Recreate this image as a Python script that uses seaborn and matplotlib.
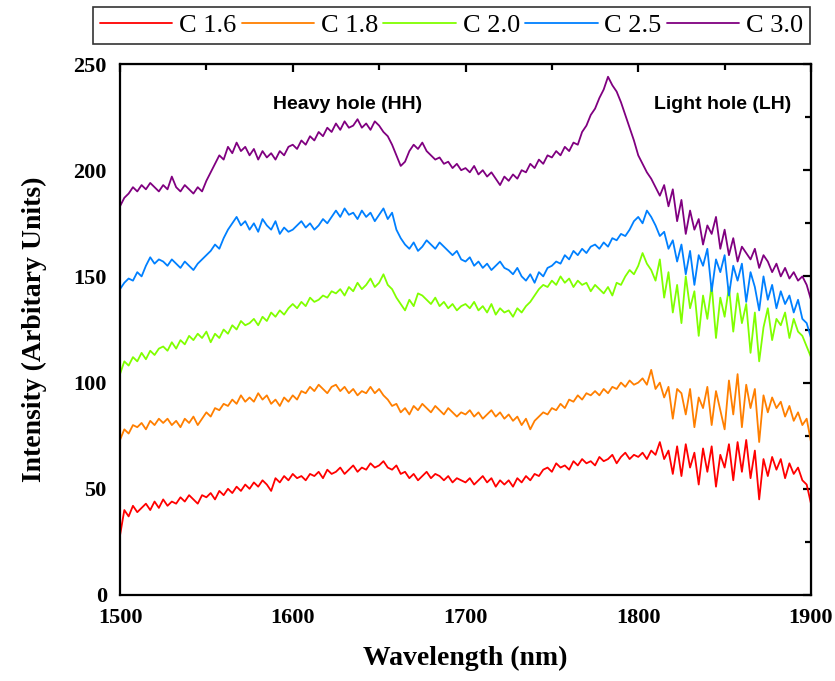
import numpy as np
import pandas as pd
import matplotlib
matplotlib.use('Agg')
import matplotlib.pyplot as plt
import seaborn as sns

# wavelength grid, 2.5 nm steps from 1500 to 1900
wavelength = np.arange(1500, 1900.1, 2.5)

c16 = [28, 40, 37, 42, 39, 41, 43, 40, 44, 41,
       45, 42, 44, 43, 46, 44, 47, 45, 43, 47,
       46, 48, 45, 49, 47, 50, 48, 51, 49, 52,
       50, 53, 51, 54, 52, 49, 55, 53, 56, 54,
       57, 55, 56, 54, 57, 56, 58, 55, 59, 57,
       58, 60, 57, 59, 61, 58, 60, 59, 62, 60,
       61, 63, 60, 59, 61, 57, 58, 55, 57, 54,
       56, 58, 55, 57, 56, 54, 56, 53, 55, 54,
       53, 55, 52, 54, 56, 53, 55, 51, 54, 52,
       54, 51, 55, 53, 56, 54, 57, 56, 59, 60,
       58, 62, 60, 61, 59, 63, 61, 64, 62, 63,
       61, 65, 63, 64, 66, 62, 65, 67, 64, 66,
       65, 67, 64, 68, 66, 72, 64, 68, 57, 70,
       56, 71, 60, 67, 52, 69, 58, 70, 51, 66,
       60, 71, 54, 72, 58, 73, 55, 68, 45, 64,
       56, 65, 59, 64, 55, 62, 57, 60, 54, 52,
       43]

c18 = [73, 78, 76, 80, 79, 81, 78, 82, 80, 83,
       81, 83, 80, 82, 79, 83, 81, 84, 80, 83,
       86, 84, 88, 87, 90, 89, 92, 90, 94, 91,
       93, 91, 95, 92, 94, 90, 92, 89, 93, 91,
       94, 92, 96, 95, 98, 96, 99, 97, 95, 98,
       99, 96, 98, 95, 97, 94, 96, 95, 98, 95,
       97, 94, 92, 89, 90, 86, 88, 85, 89, 87,
       90, 88, 86, 89, 87, 85, 88, 86, 84, 86,
       85, 87, 84, 86, 83, 85, 87, 84, 86, 83,
       85, 82, 84, 80, 83, 78, 82, 84, 86, 85,
       88, 87, 90, 88, 92, 91, 94, 92, 95, 94,
       96, 94, 97, 95, 98, 97, 100, 98, 101, 99,
       100, 102, 99, 106, 97, 100, 93, 98, 83, 97,
       95, 85, 97, 79, 93, 88, 98, 80, 96, 87,
       78, 101, 85, 104, 79, 99, 88, 97, 72, 94,
       86, 93, 88, 91, 84, 89, 82, 86, 80, 83,
       72]

c20 = [104, 110, 108, 112, 110, 114, 111, 115, 113, 116,
       117, 115, 119, 116, 120, 118, 122, 120, 123, 121,
       124, 119, 123, 121, 125, 123, 127, 125, 129, 127,
       128, 130, 127, 131, 129, 133, 131, 134, 132, 135,
       137, 135, 138, 136, 140, 138, 139, 141, 140, 143,
       142, 144, 141, 145, 143, 147, 144, 146, 149, 145,
       147, 151, 146, 144, 140, 137, 134, 139, 136, 142,
       141, 139, 137, 140, 136, 138, 135, 137, 134, 136,
       137, 135, 138, 134, 136, 133, 137, 132, 135, 133,
       134, 131, 135, 133, 136, 138, 141, 144, 146, 145,
       148, 146, 150, 147, 149, 145, 148, 146, 147, 143,
       146, 144, 142, 145, 141, 147, 146, 150, 153, 151,
       155, 161, 156, 153, 148, 158, 140, 152, 133, 146,
       128, 150, 135, 143, 122, 141, 130, 146, 121, 140,
       131, 145, 124, 142, 128, 137, 114, 133, 110, 126,
       135, 120, 130, 127, 133, 121, 130, 124, 122, 117,
       112]

c25 = [144, 147, 149, 148, 152, 150, 155, 159, 156, 158,
       157, 155, 158, 156, 154, 157, 155, 153, 156, 158,
       160, 162, 165, 163, 168, 172, 175, 178, 174, 176,
       172, 175, 171, 177, 174, 172, 176, 170, 173, 171,
       172, 174, 176, 173, 175, 172, 174, 177, 175, 178,
       181, 178, 182, 179, 180, 177, 181, 178, 180, 176,
       179, 182, 177, 180, 172, 168, 165, 163, 166, 162,
       164, 167, 165, 163, 166, 164, 162, 160, 162, 158,
       157, 159, 155, 157, 154, 156, 153, 155, 157, 154,
       153, 151, 154, 150, 148, 151, 147, 152, 150, 154,
       155, 157, 156, 160, 158, 162, 160, 163, 161, 164,
       165, 163, 166, 164, 168, 167, 170, 169, 172, 176,
       178, 175, 181, 178, 174, 169, 171, 163, 167, 157,
       165, 151, 162, 146, 160, 155, 163, 143, 158, 152,
       160, 141, 155, 148, 156, 138, 152, 145, 134, 150,
       139, 146, 135, 143, 137, 141, 133, 139, 130, 128,
       121]

c30 = [183, 187, 189, 192, 190, 193, 191, 194, 192, 190,
       193, 191, 197, 192, 190, 193, 191, 189, 192, 190,
       195, 199, 203, 207, 205, 211, 208, 213, 209, 211,
       207, 210, 205, 209, 206, 208, 205, 209, 207, 211,
       212, 210, 214, 212, 216, 214, 218, 216, 220, 218,
       222, 219, 223, 220, 221, 224, 220, 222, 219, 223,
       221, 218, 216, 212, 207, 202, 204, 209, 212, 210,
       213, 209, 207, 205, 206, 203, 204, 201, 203, 200,
       201, 199, 202, 198, 200, 197, 199, 196, 193, 197,
       195, 198, 196, 200, 199, 203, 201, 205, 203, 207,
       206, 209, 207, 211, 209, 213, 212, 218, 221, 226,
       229, 234, 238, 244, 240, 237, 232, 226, 220, 214,
       207, 203, 199, 196, 192, 188, 193, 183, 191, 176,
       186, 170, 181, 172, 177, 165, 174, 170, 178, 163,
       172, 160, 168, 157, 164, 161, 158, 163, 154, 160,
       157, 152, 156, 150, 154, 149, 152, 148, 150, 146,
       139]

labels = ['C 1.6', 'C 1.8', 'C 2.0', 'C 2.5', 'C 3.0']
colors = ['#FF0000', '#FF7F00', '#80FF00', '#0080FF', '#800080']

frames = []
for lab, vals in zip(labels, [c16, c18, c20, c25, c30]):
    frames.append(pd.DataFrame({'Wavelength': wavelength, 'Intensity': vals, 'Sample': lab}))
df = pd.concat(frames, ignore_index=True)

sns.set_style('white')
plt.rcParams['font.family'] = ['Liberation Serif', 'DejaVu Serif']
plt.rcParams['text.color'] = 'black'
plt.rcParams['axes.labelcolor'] = 'black'
plt.rcParams['xtick.color'] = 'black'
plt.rcParams['ytick.color'] = 'black'

fig = plt.figure(figsize=(8.35, 6.81), dpi=100)
ax = fig.add_axes([120 / 835, 1 - 595 / 681, 691 / 835, 531 / 681])

sns.lineplot(data=df, x='Wavelength', y='Intensity', hue='Sample', palette=colors,
             estimator=None, sort=False, linewidth=1.3, ax=ax)

ax.set_xlim(1500, 1900)
ax.set_ylim(0, 250)
ax.set_xticks([1500, 1600, 1700, 1800, 1900])
ax.set_xticks([1550, 1650, 1750, 1850], minor=True)
ax.set_yticks([0, 50, 100, 150, 200, 250])
ax.set_yticks([25, 75, 125, 175, 225], minor=True)

for sp in ax.spines.values():
    sp.set_linewidth(1.6)
    sp.set_color('black')

ax.tick_params(which='major', direction='out', length=6, width=1.6, labelsize=16)
ax.tick_params(which='minor', direction='out', length=4, width=1.6)
for t in ax.get_xticklabels() + ax.get_yticklabels():
    t.set_fontweight('bold')

# inward ticks on top and right
top = ax.secondary_xaxis('top')
top.set_xticks([1500, 1600, 1700, 1800, 1900])
top.set_xticks([1550, 1650, 1750, 1850], minor=True)
top.tick_params(which='major', direction='in', length=6, width=1.6, labeltop=False)
top.tick_params(which='minor', direction='in', length=4, width=1.6)
right = ax.secondary_yaxis('right')
right.set_yticks([0, 50, 100, 150, 200, 250])
right.set_yticks([25, 75, 125, 175, 225], minor=True)
right.tick_params(which='major', direction='in', length=6, width=1.6, labelright=False)
right.tick_params(which='minor', direction='in', length=4, width=1.6)

ax.set_xlabel('Wavelength (nm)', fontsize=20, fontweight='bold', labelpad=13)
ax.set_ylabel('Intensity (Arbitary Units)', fontsize=20, fontweight='bold', labelpad=19)

ax.text(1632, 231, 'Heavy hole (HH)', ha='center', va='center', fontsize=14,
        fontweight='bold', color='black', family=['Liberation Sans', 'DejaVu Sans'])
ax.text(1849, 231, 'Light hole (LH)', ha='center', va='center', fontsize=14,
        fontweight='bold', color='black', family=['Liberation Sans', 'DejaVu Sans'])

handles, labs = ax.get_legend_handles_labels()
ax.get_legend().remove()
leg = fig.legend(handles, labs, loc='lower center', ncol=5,
                 bbox_to_anchor=(451.5 / 835, 1 - 44 / 681), fontsize=19,
                 frameon=True, fancybox=False, edgecolor='black',
                 handlelength=2.75, handletextpad=0.25, columnspacing=0.2,
                 borderpad=0.25, borderaxespad=0)
leg.get_frame().set_linewidth(1.2)

fig.savefig('out.png', dpi=100)
